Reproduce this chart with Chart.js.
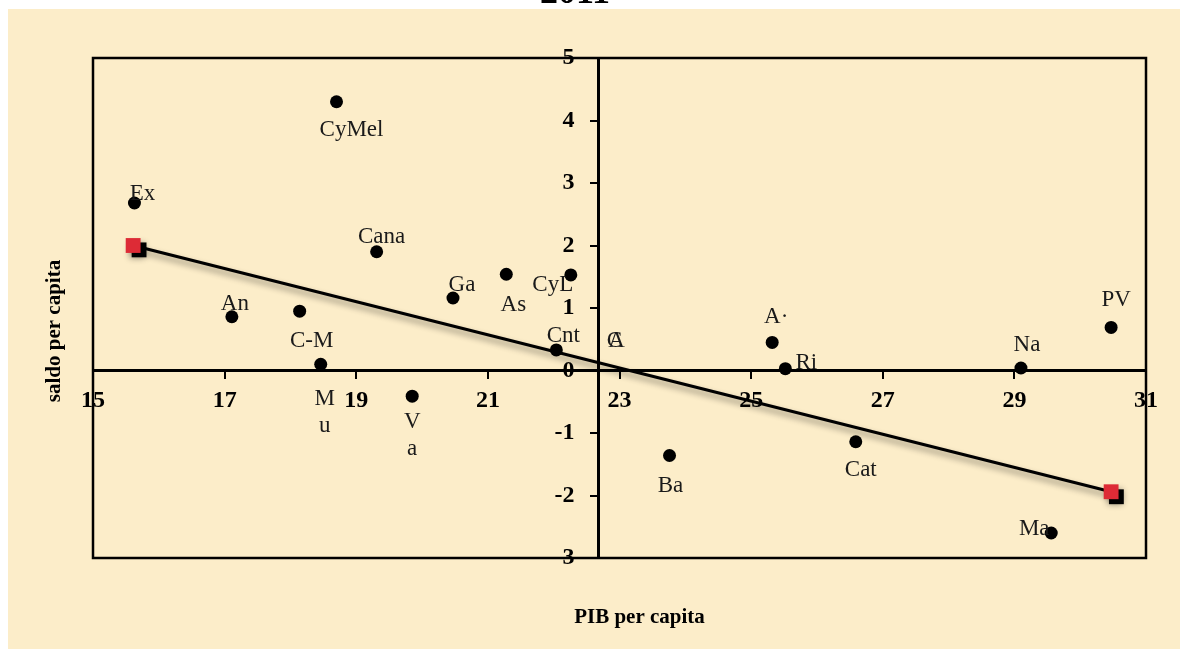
<!DOCTYPE html>
<html>
<head>
<meta charset="utf-8">
<script src="https://cdn.jsdelivr.net/npm/chart.js@4.4.1/dist/chart.umd.min.js"></script>
<style>
    html, body { margin: 0; padding: 0; background: #fff; }
    #wrap { position: absolute; left: 0; top: 0; width: 1180px; height: 649px; }
    #title { position: absolute; left: 0; top: -27px; width: 1150px; text-align: center;
             font: bold 36px "Liberation Serif", serif; line-height: 36px; color: #000; z-index: 2; }
</style>
</head>
<body>
<div id="wrap"><canvas id="chart" width="1180" height="649"></canvas></div>
<div id="title">2011</div>
<script>
var regions = ["Ex", "CyMel", "Cana", "An", "C-M", "M\nu", "V\na", "Ga", "As", "CyL", "Cnt",
               "A·", "Ri", "Ba", "Cat", "Ma", "Na", "PV"];
var pib   = [15.63, 18.70, 19.31, 17.11, 18.14, 18.46, 19.85, 20.47, 21.28, 22.26, 22.04,
             25.32, 25.52, 23.76, 26.59, 29.56, 29.10, 30.47];
var saldo = [2.68, 4.30, 1.90, 0.86, 0.95, 0.10, -0.41, 1.16, 1.54, 1.53, 0.33,
             0.45, 0.03, -1.36, -1.14, -2.60, 0.04, 0.69];

// average point (its marker is hidden, only the labels show)
var meanNames = ["C", "A"];
var meanPib = [22.68, 22.68];
var meanSaldo = [0.16, 0.16];

// regression line ends and their shadow squares
var trendPib = [15.61, 30.47];
var trendSaldo = [2.00, -1.94];
var shadePib = [15.70, 30.55];
var shadeSaldo = [1.93, -2.02];

var xTicks = [15, 17, 19, 21, 23, 25, 27, 29, 31];
var yTicks = [-3, -2, -1, 0, 1, 2, 3, 4, 5];

var xTitle = "PIB per capita";
var yTitle = "saldo per capita";

function points(xs, ys) {
    return xs.map(function(v, i) { return {x: v, y: ys[i]}; });
}

// where each name sits relative to its dot: [dx to text centre, dy to baseline]
var labelOffset = {
    "Ex": [8, -3], "CyMel": [15, 34], "Cana": [5, -9], "An": [3, -7], "C-M": [12, 36],
    "M\nu": [4, 41], "V\na": [0, 32], "Ga": [9, -7], "As": [7, 37], "CyL": [-18, 16],
    "Cnt": [7, -8], "C": [16, -14], "A": [18, -14], "A·": [4, -19], "Ri": [21, 0],
    "Ba": [1, 36], "Cat": [5, 34], "Ma": [-17, 2], "Na": [6, -17], "PV": [5, -21]
};

var background = {
    id: "background",
    beforeDraw: function(chart) {
        var ctx = chart.ctx;
        ctx.save();
        ctx.fillStyle = "#fcedc9";
        ctx.fillRect(8, 9, chart.width - 8, chart.height - 9);
        ctx.restore();
    },
    afterDraw: function(chart) {
        var ctx = chart.ctx;
        var a = chart.chartArea;
        ctx.save();
        ctx.strokeStyle = "#000";
        ctx.lineWidth = 2.5;
        ctx.strokeRect(a.left, a.top, a.right - a.left, a.bottom - a.top);
        ctx.fillStyle = "#000";
        ctx.font = "bold 21px 'Liberation Serif'";
        ctx.textAlign = "center";
        ctx.textBaseline = "alphabetic";
        ctx.fillText(xTitle, a.left + (a.right - a.left) / 2 + 20, 623);
        ctx.translate(60, a.top + (a.bottom - a.top) / 2 + 23);
        ctx.rotate(-Math.PI / 2);
        ctx.fillText(yTitle, 0, 0);
        ctx.restore();
    }
};

var shadow = {
    id: "shadow",
    beforeDatasetDraw: function(chart, args) {
        if (!args.meta._dataset.shadow) return;
        var ctx = chart.ctx;
        ctx.save();
        ctx.shadowColor = "rgba(0,0,0,0.45)";
        ctx.shadowBlur = 6;
        ctx.shadowOffsetX = 4;
        ctx.shadowOffsetY = 5;
    },
    afterDatasetDraw: function(chart, args) {
        if (!args.meta._dataset.shadow) return;
        chart.ctx.restore();
    }
};

var pointLabels = {
    id: "pointLabels",
    afterDatasetsDraw: function(chart) {
        var ctx = chart.ctx;
        ctx.save();
        ctx.font = "23px 'Liberation Serif'";
        ctx.fillStyle = "#1a1a1a";
        ctx.textAlign = "center";
        ctx.textBaseline = "alphabetic";
        chart.data.datasets.forEach(function(ds, i) {
            if (!ds.names) return;
            chart.getDatasetMeta(i).data.forEach(function(pt, j) {
                var name = ds.names[j];
                var off = labelOffset[name] || [0, -12];
                name.split("\n").forEach(function(line, k) {
                    ctx.fillText(line, pt.x + off[0], pt.y + off[1] + k * 27);
                });
            });
        });
        ctx.restore();
    }
};

var tickFont = { family: "Liberation Serif", size: 24, weight: "bold" };

new Chart(document.getElementById("chart"), {
    type: "scatter",
    data: {
        datasets: [{
            label: "trend",
            type: "line",
            data: points(trendPib, trendSaldo),
            showLine: true,
            shadow: true,
            borderColor: "#000",
            borderWidth: 3,
            pointStyle: "rect",
            pointRadius: 10.5,
            pointBackgroundColor: "#dd2b36",
            pointBorderWidth: 0,
            order: 1
        }, {
            label: "trend shadow",
            data: points(shadePib, shadeSaldo),
            pointStyle: "rect",
            pointRadius: 10.5,
            pointBackgroundColor: "#000",
            pointBorderWidth: 0,
            order: 2
        }, {
            label: "regions",
            data: points(pib, saldo),
            names: regions,
            pointRadius: 6.5,
            pointBackgroundColor: "#000",
            pointBorderWidth: 0,
            order: 3
        }, {
            label: "average",
            data: points(meanPib, meanSaldo),
            names: meanNames,
            pointRadius: 0,
            order: 4
        }]
    },
    options: {
        responsive: false,
        animation: false,
        layout: { padding: { left: 93, top: 58, right: 34, bottom: 91 } },
        plugins: {
            legend: { display: false },
            tooltip: { enabled: false }
        },
        scales: {
            x: {
                type: "linear",
                min: 15,
                max: 31,
                position: { y: 0 },
                afterBuildTicks: function(axis) {
                    axis.ticks = xTicks.map(function(v) { return {value: v}; });
                },
                grid: { drawOnChartArea: false, drawTicks: true, tickLength: 7, color: "#000", lineWidth: 2 },
                border: { display: true, color: "#000", width: 3 },
                ticks: { autoSkip: false, maxRotation: 0, padding: 9, color: "#000", font: tickFont }
            },
            y: {
                type: "linear",
                min: -3,
                max: 5,
                position: { x: 22.68 },
                afterBuildTicks: function(axis) {
                    axis.ticks = yTicks.map(function(v) { return {value: v}; });
                },
                grid: { drawOnChartArea: false, drawTicks: true, tickLength: 7, color: "#000", lineWidth: 2 },
                border: { display: true, color: "#000", width: 3 },
                ticks: {
                    autoSkip: false,
                    color: "#000",
                    font: tickFont,
                    // labels sit right-aligned on the axis line, so pad them away from it
                    callback: function(value) { return value + "\u2002\u2002"; }
                }
            }
        }
    },
    plugins: [background, shadow, pointLabels]
});
</script>
</body>
</html>
